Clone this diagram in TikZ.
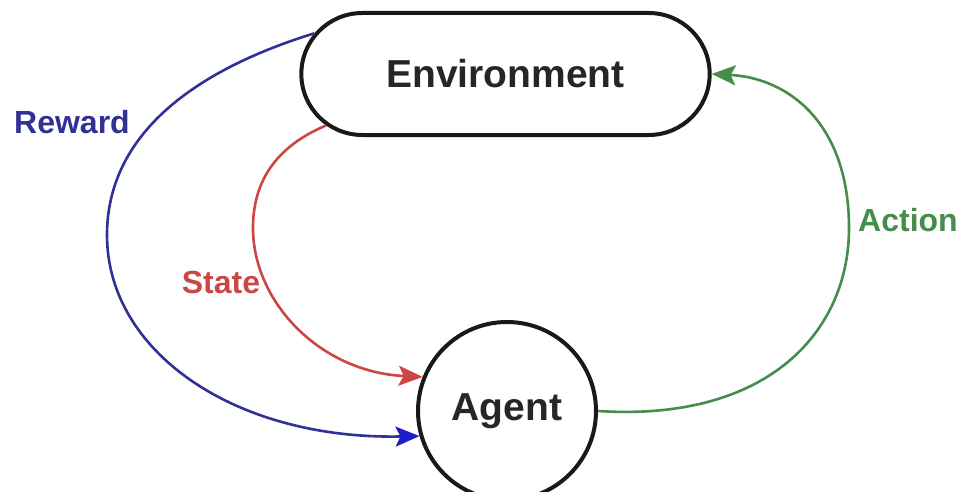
\documentclass[tikz,border=0pt]{standalone}
\usepackage{fontspec}
\setmainfont{Liberation Sans}
\usetikzlibrary{shapes.misc,arrows.meta}
\definecolor{rwblue}{RGB}{48,48,150}
\definecolor{rwbluetip}{RGB}{30,30,200}
\definecolor{stred}{RGB}{205,70,70}
\definecolor{acgreen}{RGB}{70,140,75}
\definecolor{nodeline}{RGB}{25,25,25}
\tikzset{
  bignode/.style={draw=nodeline, line width=4pt, fill=white, font=\fontsize{39}{45}\selectfont\bfseries, text=black!85},
  lbl/.style={font=\fontsize{32}{38}\selectfont\bfseries, inner sep=1pt},
  conn/.style={line width=2.6pt, -{Stealth[length=24pt,width=20pt,inset=5pt]}},
}
\begin{document}
\begin{tikzpicture}[x=1pt,y=-1pt]
\useasboundingbox (0,0) rectangle (963,492);
\fill[white] (0,0) rectangle (963,492);

\node[bignode, rounded rectangle, minimum width=415pt, minimum height=122pt] (env) at (505.5,74) {Environment};
\node[bignode, circle, minimum size=178pt, inner sep=0pt] (agent) at (507,411) {Agent};

% Reward
\draw[conn, draw=rwblue, -{Stealth[length=24pt,width=20pt,inset=5pt,color=rwbluetip]}]
  (env.168) .. controls (170,78) and (107,150) .. (107,235)
  .. controls (107,352) and (235,440) .. (agent.196);
% State
\draw[conn, draw=stred]
  (env.196) .. controls (268,150) and (253,190) .. (253,228)
  .. controls (253,302) and (320,372) .. (agent.158);
% Action
\draw[conn, draw=acgreen]
  (agent.east) .. controls (770,422) and (849,330) .. (849,228)
  .. controls (849,125) and (790,78) .. (env.east);

\node[lbl, text=rwblue] (lreward) at (72,122) {Reward};
\node[lbl, text=stred] (lstate) at (221,282) {State};
\node[lbl, text=acgreen] (laction) at (908,220) {Action};
\end{tikzpicture}
\end{document}
